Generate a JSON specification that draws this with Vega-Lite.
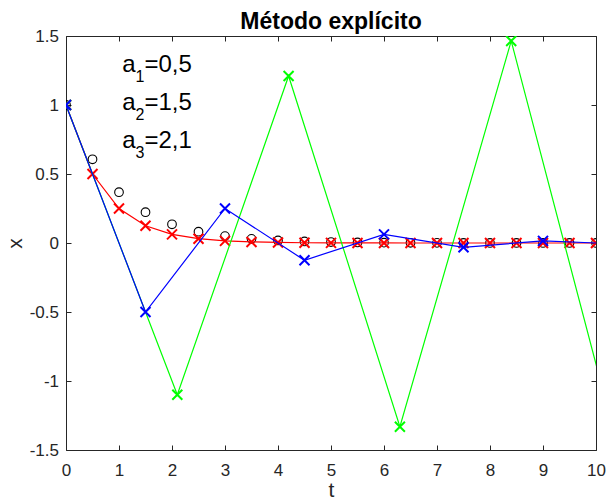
{
  "$schema": "https://vega.github.io/schema/vega-lite/v6.json",
  "width": 530,
  "height": 414,
  "autosize": {"type": "none"},
  "padding": {"left": 66, "top": 36, "right": 10, "bottom": 54},
  "background": "white",
  "config": {
    "view": {"stroke": null},
    "font": "Liberation Sans",
    "axis": {
      "domainColor": "#262626",
      "domainWidth": 1,
      "tickColor": "#262626",
      "tickWidth": 1,
      "tickSize": -5,
      "labelColor": "#262626",
      "labelFont": "Liberation Sans",
      "labelFontSize": 17,
      "labelFlush": false,
      "grid": false,
      "titleFont": "Liberation Sans",
      "titleFontSize": 21,
      "titleFontWeight": "normal",
      "titleColor": "#262626"
    }
  },
  "title": {
    "text": "Método explícito",
    "fontSize": 23,
    "fontWeight": "bold",
    "color": "black",
    "font": "Liberation Sans",
    "anchor": "middle",
    "baseline": "alphabetic",
    "offset": -25,
    "frame": "group"
  },
  "datasets": {
    "main": [
      {"s": "ex", "t": 0, "x": 1},
      {"s": "ex", "t": 0.5, "x": 0.60653},
      {"s": "ex", "t": 1, "x": 0.36788},
      {"s": "ex", "t": 1.5, "x": 0.22313},
      {"s": "ex", "t": 2, "x": 0.13534},
      {"s": "ex", "t": 2.5, "x": 0.082085},
      {"s": "ex", "t": 3, "x": 0.049787},
      {"s": "ex", "t": 3.5, "x": 0.030197},
      {"s": "ex", "t": 4, "x": 0.018316},
      {"s": "ex", "t": 4.5, "x": 0.011109},
      {"s": "ex", "t": 5, "x": 0.0067379},
      {"s": "ex", "t": 5.5, "x": 0.0040868},
      {"s": "ex", "t": 6, "x": 0.0024788},
      {"s": "ex", "t": 6.5, "x": 0.0015034},
      {"s": "ex", "t": 7, "x": 0.00091188},
      {"s": "ex", "t": 7.5, "x": 0.00055308},
      {"s": "ex", "t": 8, "x": 0.00033546},
      {"s": "ex", "t": 8.5, "x": 0.00020347},
      {"s": "ex", "t": 9, "x": 0.00012341},
      {"s": "ex", "t": 9.5, "x": 0.000074852},
      {"s": "ex", "t": 10, "x": 0.0000454},
      {"s": "a1", "t": 0, "x": 1},
      {"s": "a1", "t": 0.5, "x": 0.5},
      {"s": "a1", "t": 1, "x": 0.25},
      {"s": "a1", "t": 1.5, "x": 0.125},
      {"s": "a1", "t": 2, "x": 0.0625},
      {"s": "a1", "t": 2.5, "x": 0.03125},
      {"s": "a1", "t": 3, "x": 0.015625},
      {"s": "a1", "t": 3.5, "x": 0.0078125},
      {"s": "a1", "t": 4, "x": 0.00390625},
      {"s": "a1", "t": 4.5, "x": 0.001953125},
      {"s": "a1", "t": 5, "x": 0.0009765625},
      {"s": "a1", "t": 5.5, "x": 0.00048828},
      {"s": "a1", "t": 6, "x": 0.00024414},
      {"s": "a1", "t": 6.5, "x": 0.00012207},
      {"s": "a1", "t": 7, "x": 0.000061035},
      {"s": "a1", "t": 7.5, "x": 0.000030518},
      {"s": "a1", "t": 8, "x": 0.000015259},
      {"s": "a1", "t": 8.5, "x": 0.0000076294},
      {"s": "a1", "t": 9, "x": 0.0000038147},
      {"s": "a1", "t": 9.5, "x": 0.0000019073},
      {"s": "a1", "t": 10, "x": 0.00000095367},
      {"s": "a2", "t": 0, "x": 1},
      {"s": "a2", "t": 1.5, "x": -0.5},
      {"s": "a2", "t": 3, "x": 0.25},
      {"s": "a2", "t": 4.5, "x": -0.125},
      {"s": "a2", "t": 6, "x": 0.0625},
      {"s": "a2", "t": 7.5, "x": -0.03125},
      {"s": "a2", "t": 9, "x": 0.015625},
      {"s": "a2", "t": 10.5, "x": -0.0078125},
      {"s": "a3", "t": 0, "x": 1},
      {"s": "a3", "t": 2.1, "x": -1.1},
      {"s": "a3", "t": 4.2, "x": 1.21},
      {"s": "a3", "t": 6.3, "x": -1.331},
      {"s": "a3", "t": 8.4, "x": 1.4641},
      {"s": "a3", "t": 10.5, "x": -1.61051}
    ],
    "leg": [
      {"t": 1.06, "x": 1.241, "a": "a", "sub": "1", "rest": "=0,5"},
      {"t": 1.06, "x": 0.964, "a": "a", "sub": "2", "rest": "=1,5"},
      {"t": 1.06, "x": 0.686, "a": "a", "sub": "3", "rest": "=2,1"}
    ]
  },
  "data": {"name": "main"},
  "encoding": {
    "x": {"field": "t", "type": "quantitative", "scale": {"domain": [0, 10], "nice": false, "zero": false}, "axis": null},
    "y": {"field": "x", "type": "quantitative", "scale": {"domain": [-1.5, 1.5], "nice": false, "zero": false}, "axis": null}
  },
  "layer": [
    {
      "transform": [{"filter": "datum.s == 'ex'"}],
      "mark": {"type": "point", "shape": "circle", "filled": false, "color": "black", "size": 75, "strokeWidth": 1.1, "opacity": 1, "clip": true},
      "encoding": {
        "x": {"field": "t", "type": "quantitative", "scale": {"domain": [0, 10], "nice": false, "zero": false},
          "axis": {"orient": "bottom", "title": "t", "titleFontSize": 21, "values": [0, 1, 2, 3, 4, 5, 6, 7, 8, 9, 10], "labelPadding": 17, "labelFlush": false, "titleY": 46, "titleBaseline": "alphabetic", "labelExpr": "'' + datum.value"}},
        "y": {"field": "x", "type": "quantitative", "scale": {"domain": [-1.5, 1.5], "nice": false, "zero": false},
          "axis": {"orient": "left", "title": "x", "titleFontSize": 21, "values": [-1.5, -1, -0.5, 0, 0.5, 1, 1.5], "labelPadding": 12.5, "labelFlush": false, "titleX": -51, "titleAngle": -90, "titleBaseline": "middle", "labelExpr": "'' + datum.value"}}
      }
    },
    {
      "transform": [{"filter": "datum.s == 'a1'"}],
      "mark": {"type": "line", "color": "#FF0000", "strokeWidth": 1.2, "clip": true},
      "encoding": {
        "x": {"field": "t", "type": "quantitative", "scale": {"domain": [0, 10], "nice": false, "zero": false},
          "axis": {"orient": "top", "title": null, "labels": false, "values": [0, 1, 2, 3, 4, 5, 6, 7, 8, 9, 10]}},
        "y": {"field": "x", "type": "quantitative", "scale": {"domain": [-1.5, 1.5], "nice": false, "zero": false},
          "axis": {"orient": "right", "title": null, "labels": false, "values": [-1.5, -1, -0.5, 0, 0.5, 1, 1.5]}}
      }
    },
    {
      "transform": [{"filter": "datum.s == 'a1'"}],
      "mark": {"type": "point", "shape": "M-1,-1L1,1M-1,1L1,-1", "filled": false, "color": "#FF0000", "size": 100, "strokeWidth": 2, "opacity": 1, "clip": true}
    },
    {
      "transform": [{"filter": "datum.s == 'a3'"}],
      "mark": {"type": "line", "color": "#00FF00", "strokeWidth": 1.2, "clip": true}
    },
    {
      "transform": [{"filter": "datum.s == 'a3'"}],
      "mark": {"type": "point", "shape": "M-1,-1L1,1M-1,1L1,-1", "filled": false, "color": "#00FF00", "size": 100, "strokeWidth": 2, "opacity": 1, "clip": true}
    },
    {
      "transform": [{"filter": "datum.s == 'a2'"}],
      "mark": {"type": "line", "color": "#0000FF", "strokeWidth": 1.2, "clip": true}
    },
    {
      "transform": [{"filter": "datum.s == 'a2'"}],
      "mark": {"type": "point", "shape": "M-1,-1L1,1M-1,1L1,-1", "filled": false, "color": "#0000FF", "size": 100, "strokeWidth": 2, "opacity": 1, "clip": true}
    },
    {
      "data": {"name": "leg"},
      "mark": {"type": "text", "align": "left", "baseline": "alphabetic", "fontSize": 24, "font": "Liberation Sans", "color": "black"},
      "encoding": {"text": {"field": "a"}}
    },
    {
      "data": {"name": "leg"},
      "mark": {"type": "text", "align": "left", "baseline": "alphabetic", "fontSize": 16, "font": "Liberation Sans", "color": "black", "dx": 13.3, "dy": 10},
      "encoding": {"text": {"field": "sub"}}
    },
    {
      "data": {"name": "leg"},
      "mark": {"type": "text", "align": "left", "baseline": "alphabetic", "fontSize": 24, "font": "Liberation Sans", "color": "black", "dx": 22.3},
      "encoding": {"text": {"field": "rest"}}
    }
  ],
  "resolve": {"axis": {"x": "independent", "y": "independent"}}
}
